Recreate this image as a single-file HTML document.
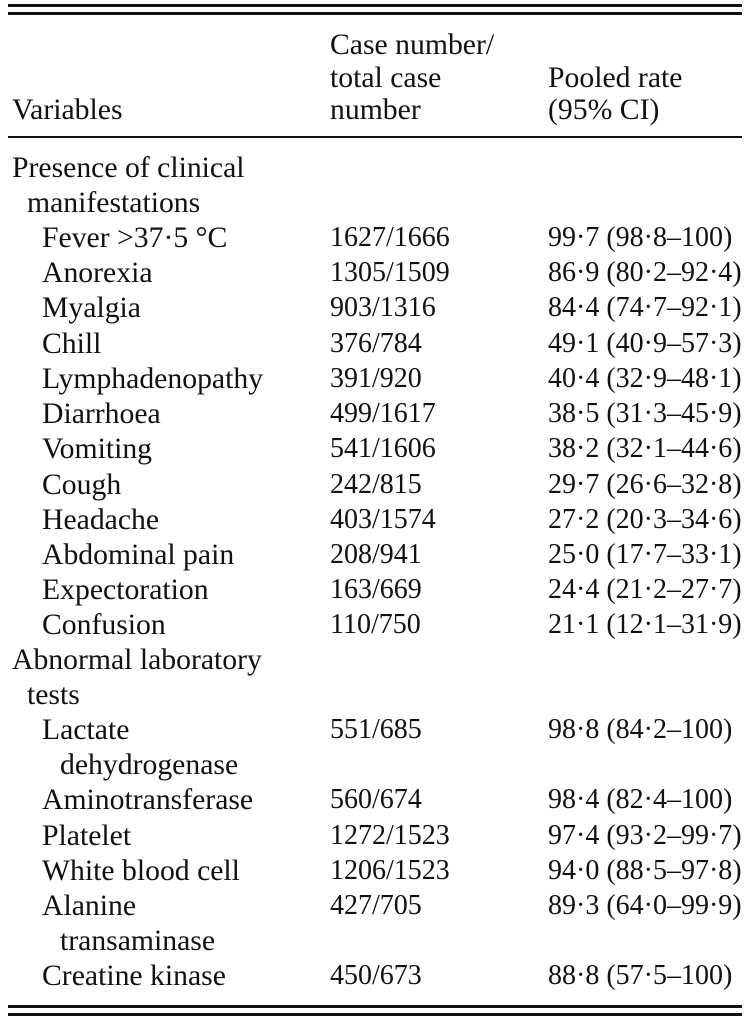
<!DOCTYPE html>
<html><head><meta charset="utf-8"><style>
body{margin:0;width:750px;height:1023px;background:#fff;position:relative;overflow:hidden;font-family:"Liberation Serif",serif;font-size:28px;color:#111}
.t{position:absolute;line-height:32px;white-space:nowrap}
.w{font-size:30px;transform:scaleX(0.99);transform-origin:left}
.l{position:absolute;left:8px;width:734px;background:#111}
</style></head><body>
<div class="l" style="top:4px;height:3px"></div>
<div class="l" style="top:12px;height:3px"></div>
<div class="l" style="top:136px;height:2px"></div>
<div class="l" style="top:1005px;height:3px"></div>
<div class="l" style="top:1013px;height:3px"></div>

<div class="t w" style="left:330px;top:29px">Case number/</div>
<div class="t w" style="left:330px;top:62px">total case</div>
<div class="t w" style="left:548px;top:62px">Pooled rate</div>
<div class="t w" style="left:12px;top:94px">Variables</div>
<div class="t w" style="left:330px;top:94px">number</div>
<div class="t w" style="left:548px;top:94px">(95% CI)</div>

<div class="t w" style="left:12px;top:152px">Presence of clinical</div>
<div class="t w" style="left:27px;top:187px">manifestations</div>

<div class="t w" style="left:42px;top:222px">Fever &gt;37·5 °C</div><div class="t" style="left:330px;top:222px">1627/1666</div><div class="t" style="left:548px;top:222px">99·7 (98·8–100)</div>
<div class="t w" style="left:42px;top:257px">Anorexia</div><div class="t" style="left:330px;top:257px">1305/1509</div><div class="t" style="left:548px;top:257px">86·9 (80·2–92·4)</div>
<div class="t w" style="left:42px;top:292px">Myalgia</div><div class="t" style="left:330px;top:292px">903/1316</div><div class="t" style="left:548px;top:292px">84·4 (74·7–92·1)</div>
<div class="t w" style="left:42px;top:328px">Chill</div><div class="t" style="left:330px;top:328px">376/784</div><div class="t" style="left:548px;top:328px">49·1 (40·9–57·3)</div>
<div class="t w" style="left:42px;top:363px">Lymphadenopathy</div><div class="t" style="left:330px;top:363px">391/920</div><div class="t" style="left:548px;top:363px">40·4 (32·9–48·1)</div>
<div class="t w" style="left:42px;top:398px">Diarrhoea</div><div class="t" style="left:330px;top:398px">499/1617</div><div class="t" style="left:548px;top:398px">38·5 (31·3–45·9)</div>
<div class="t w" style="left:42px;top:433px">Vomiting</div><div class="t" style="left:330px;top:433px">541/1606</div><div class="t" style="left:548px;top:433px">38·2 (32·1–44·6)</div>
<div class="t w" style="left:42px;top:469px">Cough</div><div class="t" style="left:330px;top:469px">242/815</div><div class="t" style="left:548px;top:469px">29·7 (26·6–32·8)</div>
<div class="t w" style="left:42px;top:504px">Headache</div><div class="t" style="left:330px;top:504px">403/1574</div><div class="t" style="left:548px;top:504px">27·2 (20·3–34·6)</div>
<div class="t w" style="left:42px;top:539px">Abdominal pain</div><div class="t" style="left:330px;top:539px">208/941</div><div class="t" style="left:548px;top:539px">25·0 (17·7–33·1)</div>
<div class="t w" style="left:42px;top:574px">Expectoration</div><div class="t" style="left:330px;top:574px">163/669</div><div class="t" style="left:548px;top:574px">24·4 (21·2–27·7)</div>
<div class="t w" style="left:42px;top:609px">Confusion</div><div class="t" style="left:330px;top:609px">110/750</div><div class="t" style="left:548px;top:609px">21·1 (12·1–31·9)</div>

<div class="t w" style="left:12px;top:644px">Abnormal laboratory</div>
<div class="t w" style="left:27px;top:679px">tests</div>

<div class="t w" style="left:42px;top:714px">Lactate</div><div class="t" style="left:330px;top:714px">551/685</div><div class="t" style="left:548px;top:714px">98·8 (84·2–100)</div>
<div class="t w" style="left:60px;top:749px">dehydrogenase</div>
<div class="t w" style="left:42px;top:784px">Aminotransferase</div><div class="t" style="left:330px;top:784px">560/674</div><div class="t" style="left:548px;top:784px">98·4 (82·4–100)</div>
<div class="t w" style="left:42px;top:820px">Platelet</div><div class="t" style="left:330px;top:820px">1272/1523</div><div class="t" style="left:548px;top:820px">97·4 (93·2–99·7)</div>
<div class="t w" style="left:42px;top:855px">White blood cell</div><div class="t" style="left:330px;top:855px">1206/1523</div><div class="t" style="left:548px;top:855px">94·0 (88·5–97·8)</div>
<div class="t w" style="left:42px;top:890px">Alanine</div><div class="t" style="left:330px;top:890px">427/705</div><div class="t" style="left:548px;top:890px">89·3 (64·0–99·9)</div>
<div class="t w" style="left:60px;top:925px">transaminase</div>
<div class="t w" style="left:42px;top:960px">Creatine kinase</div><div class="t" style="left:330px;top:960px">450/673</div><div class="t" style="left:548px;top:960px">88·8 (57·5–100)</div>
</body></html>
